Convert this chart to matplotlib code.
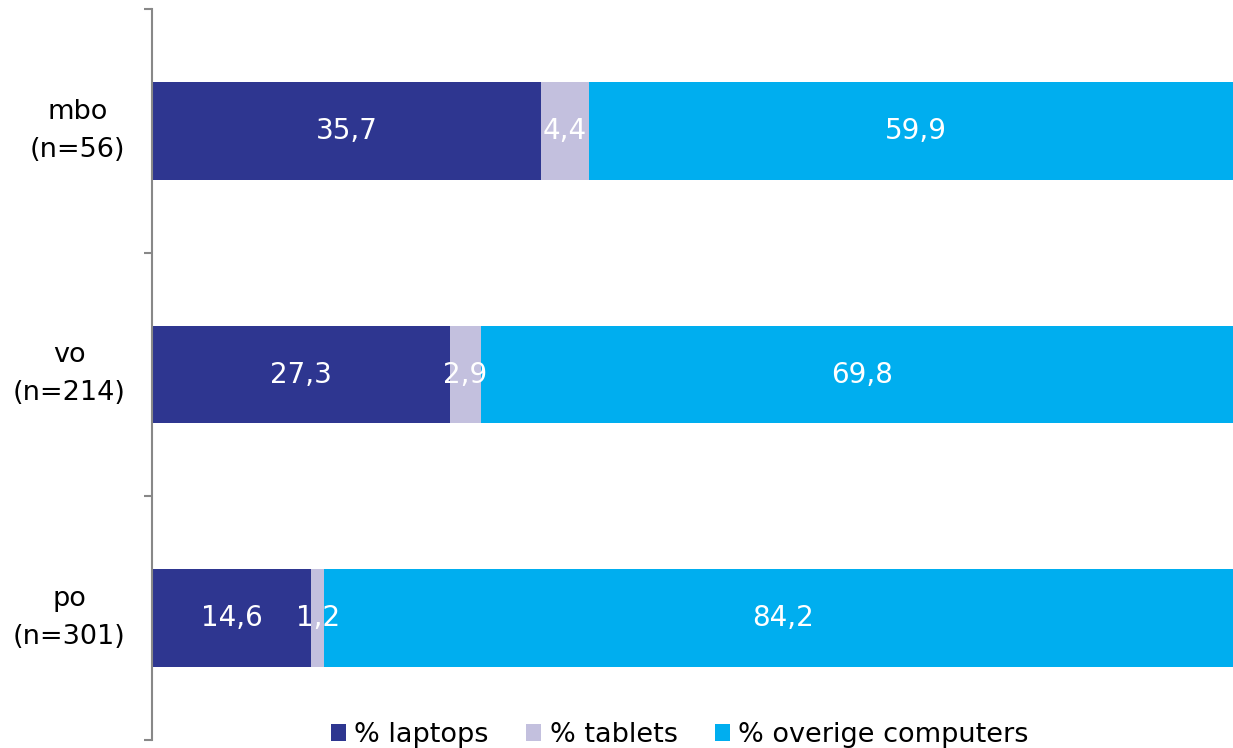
import matplotlib
matplotlib.use("Agg")
import matplotlib.pyplot as plt
import numpy as np

categories = ["mbo\n(n=56)", "vo\n(n=214)", "po\n(n=301)"]
series_names = ["% laptops", "% tablets", "% overige computers"]
laptops = [35.7, 27.3, 14.6]
tablets = [4.4, 2.9, 1.2]
overige = [59.9, 69.8, 84.2]
colors = ["#2E3690", "#C3C0DE", "#00AEEF"]

plt.rcParams['font.family'] = ['DejaVu Sans']
fig = plt.figure(figsize=(12.33, 7.48), dpi=100)
ax = fig.add_axes([152/1233, 8/748, 1090/1233, 731/748])

y = np.arange(len(categories))[::-1]
left = np.zeros(len(categories))
for name, vals, c in zip(series_names, [laptops, tablets, overige], colors):
    vals = np.array(vals)
    ax.barh(y, vals, left=left, height=0.4, color=c, label=name)
    for yi, l, v in zip(y, left, vals):
        ax.text(l + v / 2, yi, f"{v:.1f}".replace(".", ","), ha="center", va="center",
                color="white", fontsize=20)
    left += vals

ax.set_xlim(0, 100)
ax.set_ylim(-0.5, 2.5)
ax.set_yticks(y)
ax.set_yticklabels(categories, fontsize=19.5, multialignment="center", linespacing=1.6)
for t in ax.get_yticklabels():
    t.set_va("center")
ax.set_yticks([-0.5, 0.5, 1.5, 2.5], minor=True)
ax.tick_params(axis="y", which="major", length=0, pad=19)
ax.tick_params(axis="y", which="minor", length=6, color="#888888", width=1.5)
for s in ["top", "right", "bottom"]:
    ax.spines[s].set_visible(False)
ax.spines["left"].set_color("#888888")
ax.spines["left"].set_linewidth(1.5)
ax.xaxis.set_visible(False)

leg = fig.legend(loc="center", bbox_to_anchor=(680/1233, 1 - 735/748), ncol=3, frameon=False,
                 fontsize=19.5, handlelength=0.55, handleheight=0.55, handletextpad=0.3,
                 columnspacing=1.4)

fig.savefig("out.png", dpi=100)
